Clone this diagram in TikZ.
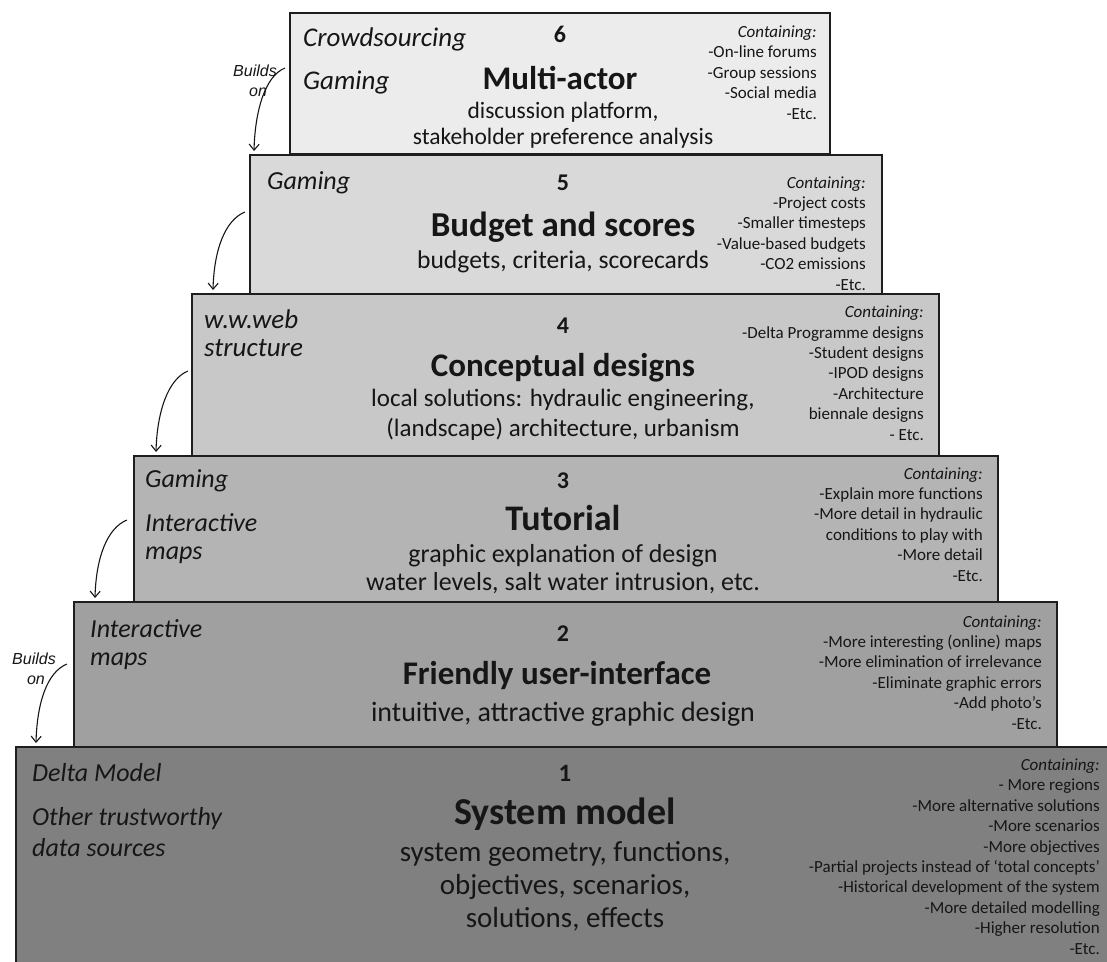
\documentclass[tikz,border=0pt]{standalone}
\usepackage{fontspec}
\setmainfont{Carlito}
\newfontfamily\arialf{Liberation Sans}
\usetikzlibrary{arrows.meta}
\definecolor{g6}{RGB}{236,236,236}
\definecolor{g5}{RGB}{217,217,217}
\definecolor{g4}{RGB}{200,200,200}
\definecolor{g3}{RGB}{180,180,180}
\definecolor{g2}{RGB}{160,160,160}
\definecolor{g1}{RGB}{128,128,128}
\definecolor{bd}{RGB}{30,30,30}
\definecolor{tc}{RGB}{22,22,22}
\newcommand{\fs}[2]{\fontsize{#1}{#2}\selectfont}
\begin{document}
\begin{tikzpicture}[x=1pt,y=-1pt,
  box/.style={draw=bd,line width=1.5pt,anchor=north west,inner sep=0pt,outer sep=0pt},
  tx/.style={inner sep=0pt,anchor=base,text=tc},
  num/.style={tx,font=\fs{24}{28}\bfseries},
  ttl/.style={tx,font=\fs{34}{40}\bfseries},
  sub/.style={tx,align=center,font=\fs{25}{30}},
  lft/.style={inner sep=0pt,anchor=base west,text=tc,font=\fs{26}{30}\itshape},
  lst/.style={inner sep=0pt,anchor=base east,align=right,text=tc,font=\fs{17}{20.4}},
  bo/.style={inner sep=0pt,anchor=base,text=tc,font=\arialf\fs{16}{19}\itshape},
  conn/.style={draw=tc,line width=1.1pt,-{Straight Barb[length=6pt,width=10pt]}}]
\clip (0,0) rectangle (1107,961);
\fill[white] (0,0) rectangle (1107,961);

% boxes (bottom first)
\node[box,fill=g1,minimum width=1110pt,minimum height=225pt] (b1) at (16,747) {};
\node[box,fill=g2,minimum width=983pt,minimum height=145pt] (b2) at (74,602) {};
\node[box,fill=g3,minimum width=864pt,minimum height=146pt] (b3) at (134,456) {};
\node[box,fill=g4,minimum width=747pt,minimum height=162pt] (b4) at (192,294) {};
\node[box,fill=g5,minimum width=632pt,minimum height=139pt] (b5) at (250,155) {};
\node[box,fill=g6,minimum width=540pt,minimum height=141pt] (b6) at (290,13) {};

% box 6
\node[num] (n6) at (560,42) {6};
\node[ttl,font=\fs{33}{40}\bfseries] (t6) at (560,89) {Multi-actor};
\node[sub,font=\fs{23.5}{26}] (s6) at (563,144) {discussion platform,\\stakeholder preference analysis};
\node[lft,font=\fs{27}{30}\itshape] (l6a) at (303,46) {Crowdsourcing};
\node[lft,font=\fs{27}{30}\itshape] (l6b) at (303,89) {Gaming};
\node[lst] (r6) at (817,119) {\textit{Containing:}\\-On-line forums\\-Group sessions\\-Social media\\-Etc.};

% box 5
\node[num] (n5) at (563,190) {5};
\node[ttl,font=\fs{35}{40}\bfseries] (t5) at (563,236) {Budget and scores};
\node[sub,font=\fs{25.6}{30}] (s5) at (563,268) {budgets, criteria, scorecards};
\node[lft] (l5a) at (267,189) {Gaming};
\node[lst] (r5) at (866,290) {\textit{Containing:}\\-Project costs\\-Smaller timesteps\\-Value-based budgets\\-CO2 emissions\\-Etc.};

% box 4
\node[num] (n4) at (563,333) {4};
\node[ttl,font=\fs{33}{40}\bfseries] (t4) at (563,376) {Conceptual designs};
\node[sub] (s4) at (563,436) {local solutions: hydraulic engineering,\\(landscape) architecture, urbanism};
\node[lft,font=\fs{27}{30}\itshape] (l4a) at (204,328) {w.w.web};
\node[lft,font=\fs{27}{30}\itshape] (l4b) at (204,356) {structure};
\node[lst] (r4) at (924,440) {\textit{Containing:}\\-Delta Programme designs\\-Student designs\\-IPOD designs\\-Architecture\\biennale designs\\- Etc.};

% box 3
\node[num] (n3) at (563,488) {3};
\node[ttl,font=\fs{36}{40}\bfseries] (t3) at (563,530) {Tutorial};
\node[sub,font=\fs{26}{28}] (s3) at (563,590) {graphic explanation of design\\water levels, salt water intrusion, etc.};
\node[lft] (l3a) at (145,487) {Gaming};
\node[lft] (l3b) at (145,531) {Interactive};
\node[lft] (l3c) at (145,559) {maps};
\node[lst] (r3) at (983,581) {\textit{Containing:}\\-Explain more functions\\-More detail in hydraulic\\conditions to play with\\-More detail\\-Etc.};

% box 2
\node[num] (n2) at (563,641) {2};
\node[ttl,font=\fs{33}{40}\bfseries] (t2) at (557,684) {Friendly user-interface};
\node[sub,font=\fs{28}{32}] (s2) at (563,721) {intuitive, attractive graphic design};
\node[lft] (l2a) at (90,637) {Interactive};
\node[lft] (l2b) at (90,665) {maps};
\node[lst] (r2) at (1042,729) {\textit{Containing:}\\-More interesting (online) maps\\-More elimination of irrelevance\\-Eliminate graphic errors\\-Add photo’s\\-Etc.};

% box 1
\node[num,font=\fs{25}{28}\bfseries] (n1) at (565,781) {1};
\node[ttl,font=\fs{38}{44}\bfseries] (t1) at (565,824) {System model};
\node[sub,font=\fs{29}{33}] (s1) at (565,927) {system geometry, functions,\\objectives, scenarios,\\solutions, effects};
\node[lft] (l1a) at (32,781) {Delta Model};
\node[lft] (l1b) at (32,825) {Other trustworthy};
\node[lft] (l1c) at (32,856) {data sources};
\node[lst] (r1) at (1100,954) {\textit{Containing:}\\- More regions\\-More alternative solutions\\-More scenarios\\-More objectives\\-Partial projects instead of ‘total concepts’\\-Historical development of the system\\-More detailed modelling\\-Higher resolution\\-Etc.};

% builds-on labels
\node[bo] (bo1a) at (255,76) {Builds};
\node[bo] (bo1b) at (258,96) {on};
\node[bo] (bo2a) at (34,664) {Builds};
\node[bo] (bo2b) at (36,684) {on};

% arrows
\coordinate (a1s) at (285,68);  \coordinate (a1e) at (254,151);
\coordinate (a2s) at (245,212); \coordinate (a2e) at (213,290);
\coordinate (a3s) at (188,371); \coordinate (a3e) at (156,452);
\coordinate (a4s) at (127,520); \coordinate (a4e) at (95,598);
\coordinate (a5s) at (67,664);  \coordinate (a5e) at (36,743);
\draw[conn] (a1s) .. controls +(-20,8) and +(1,-40) .. (a1e);
\draw[conn] (a2s) .. controls +(-20,8) and +(1,-40) .. (a2e);
\draw[conn] (a3s) .. controls +(-20,8) and +(1,-40) .. (a3e);
\draw[conn] (a4s) .. controls +(-20,8) and +(1,-40) .. (a4e);
\draw[conn] (a5s) .. controls +(-20,8) and +(1,-40) .. (a5e);
\end{tikzpicture}
\end{document}
